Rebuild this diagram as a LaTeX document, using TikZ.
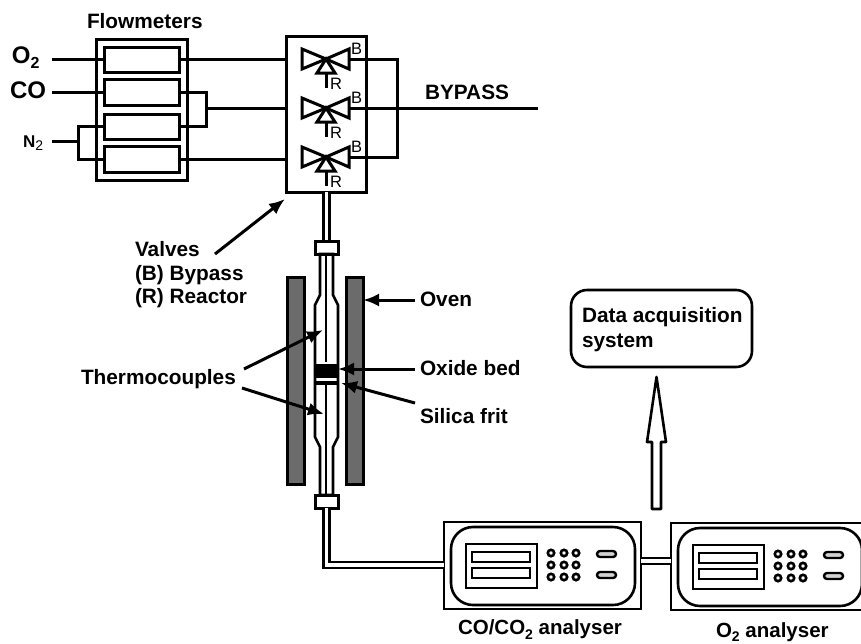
\documentclass[tikz,border=0pt]{standalone}
\usepackage{fontspec}
\setmainfont{Liberation Sans}
\usetikzlibrary{arrows.meta,calc}
\newcommand{\sizedfont}[1]{\fontsize{#1}{#1}\selectfont}
\newcommand{\subtwo}[1]{\raisebox{-.22em}{\sizedfont{#1}2}}
\newcommand{\bx}[6][box]{%
  \pgfmathsetmacro\bxw{#5-#3}\pgfmathsetmacro\bxh{#6-#4}%
  \node[#1,minimum width=\bxw pt,minimum height=\bxh pt] (#2) at ({(#3+#5)/2},{(#4+#6)/2}) {};}
\tikzset{
  box/.style={draw=black,line width=3pt,inner sep=0pt,outer sep=0pt,rectangle},
  thinbox/.style={box,line width=2.6pt},
  wire/.style={draw=black,line width=3pt},
  tube/.style={draw=black,line width=2.6pt,double=white,double distance=3.4pt},
  lab/.style={inner sep=0pt,outer sep=0pt,anchor=base west,font=\bfseries\sizedfont{20.8}},
  small/.style={inner sep=0pt,outer sep=0pt,anchor=base west,font=\sizedfont{16.5}},
  pointer/.style={draw=black,line width=3pt,-{Latex[length=16pt,width=13pt]}},
  oven/.style={box,fill=black!58},
  valvepart/.style={draw=black,line width=3pt,miter limit=10,line join=miter},
}
\begin{document}
\begin{tikzpicture}[x=1pt,y=-1pt]
\useasboundingbox (0,0) rectangle (861,643);
\clip (0,0) rectangle (861,643);
% flowmeters
\bx{fmouter}{96}{39}{187}{180}
\bx{fm1}{104}{47}{179}{72}
\bx{fm2}{104}{79}{179}{105}
\bx{fm3}{104}{114}{179}{139}
\bx{fm4}{104}{146}{179}{172}
\node[lab] (flowlab) at (87,28) {Flowmeters};
\node[lab,font=\bfseries\sizedfont{24}] (o2lab) at (12,63) {O\subtwo{16}};
\node[lab,font=\bfseries\sizedfont{24}] (colab) at (10,98) {CO};
\node[lab,font=\bfseries\sizedfont{17}] (n2lab) at (23,147) {N{\mdseries\subtwo{14}}};
\coordinate (o2in) at (52,59.5);
\coordinate (coin) at (52,92);
\coordinate (n2in) at (52,141);
\coordinate (n2j) at (78,141);
\coordinate (coj) at (206,108);
% valves
\bx{valves}{286}{36}{366}{192}
\draw[wire] (o2in) -- (fm1.west);
\draw[wire] (coin) -- (fm2.west);
\draw[wire] (n2in) -- (n2j);
\draw[wire] (fm3.west) -| (n2j) |- (fm4.west);
\draw[wire] (fm1.east) -- (fm1.east -| valves.west);
\draw[wire] (fm2.east) -| (coj) |- (fm3.east);
\draw[wire] (coj) -- (coj -| valves.west);
\draw[wire] (fm4.east) -- (fm4.east -| valves.west);
\foreach \yy/\nn in {59/1,108/2,157/3}{
  \coordinate (vc\nn) at (326,\yy);
  \draw[valvepart] (vc\nn) -- ++(-24,-10) -- ++(0,20) -- cycle;
  \draw[valvepart] (vc\nn) -- ++(23,-10) -- ++(0,20) -- cycle;
  \draw[valvepart] (vc\nn) -- ++(-9,14) -- ++(18,0) -- cycle;
  \draw[wire] (326,\yy+14) -- (326,\yy+29);
  \coordinate (vb\nn) at (349,\yy);
  \node[small] (rlab\nn) at (330,\yy+30) {R};
  \node[small] (blab\nn) at (351,\yy-5) {B};
}
\coordinate (byp) at (397,108);
\coordinate (bypend) at (538,108);
\draw[wire] (vb1) -| (byp) |- (vb3);
\draw[wire] (vb2) -- (bypend);
\node[lab] (bypasslab) at (425,99) {BYPASS};
% ovens
\bx[oven]{ovenL}{287}{277}{304}{484}
\bx[oven]{ovenR}{346}{277}{363}{484}
% reactor tube
\bx{conT}{315}{241}{338}{254}
\bx{conB}{315}{495}{338}{508}
\draw[tube] (valves.south -| 326.5,0) -- (conT.north);
\draw[wire,line width=2.6pt,fill=white]
  (320,254) -- (320,295) -- (315,305) -- (315,437) -- (320,447) -- (320,495)
  -- (333,495) -- (333,447) -- (338,437) -- (338,305) -- (333,295) -- (333,254) -- cycle;
\bx{conT}{315}{241}{338}{254}
\bx{conB}{315}{495}{338}{508}
\draw[wire,line width=2.8pt] (conT.south -| 326,0) -- (326,362);
\draw[wire,line width=2.8pt] (326,385) -- (conB.north -| 326,0);
\bx[box,fill=black,line width=0pt]{bed}{315}{364}{338}{377}
\bx[box,fill=black,line width=0pt]{frit}{315}{381}{338}{384}
% analysers
\foreach \dx/\dy/\nm in {0/0/an1,227/1/an2}{
  \begin{scope}[shift={(\dx,\dy)}]
    \bx[thinbox]{\nm}{444}{522}{641}{609}
    \bx[thinbox,rounded corners=22pt]{\nm i}{451}{527}{635}{605}
    \bx[thinbox]{\nm d}{466}{544}{537}{588}
    \bx[thinbox]{\nm b}{472}{552}{530}{562}
    \bx[thinbox]{\nm c}{472}{568}{530}{578}
    \foreach \px in {551,564,576}\foreach \py in {553,565,577}
      \draw[line width=2.6pt] (\px,\py) circle (3.2pt);
    \bx[thinbox,rounded corners=3pt,line width=2.4pt,fill=black!18]{\nm p}{597}{551}{616}{557}
    \bx[thinbox,rounded corners=3pt,line width=2.4pt,fill=black!18]{\nm q}{597}{572}{616}{578}
  \end{scope}
}
\draw[tube] (conB.south -| 326.5,0) |- (an1.west |- 0,565);
\draw[tube] (an1.east |- 0,561) -- (an2.west |- 0,561);
\node[lab,font=\bfseries\sizedfont{20.5}] (an1lab) at (458,634.5) {CO/CO\subtwo{14} analyser};
\node[lab,font=\bfseries\sizedfont{20.5}] (an2lab) at (716,637) {O\subtwo{14} analyser};
% data acquisition
\bx[thinbox,rounded corners=16pt]{data}{571}{290}{752}{367}
\node[lab] (d1) at (582,322) {Data acquisition};
\node[lab] (d2) at (582,347) {system};
\draw[line width=2.6pt,line join=round,fill=white]
  (652,509) -- (652,442) -- (647,442) -- (656.5,377) -- (666,442) -- (661,442) -- (661,509) -- cycle;
% labels and pointers
\node[lab] (v1) at (135,256) {Valves};
\node[lab] (v2) at (135,280) {(B) Bypass};
\node[lab] (v3) at (135,303) {(R) Reactor};
\coordinate (vs) at (215,254);
\coordinate (ve) at (285,199);
\draw[pointer] (vs) -- (ve);
\node[lab] (thlab) at (81,384) {Thermocouples};
\coordinate (t1s) at (244,369);
\coordinate (t1e) at (323,330);
\coordinate (t2s) at (242,388);
\coordinate (t2e) at (324,414);
\draw[pointer] (t1s) -- (t1e);
\draw[pointer] (t2s) -- (t2e);
\node[lab] (ovenlab) at (420,306) {Oven};
\node[lab] (bedlab) at (420,375) {Oxide bed};
\node[lab] (fritlab) at (420,423) {Silica frit};
\coordinate (os) at (415,300);
\coordinate (bs) at (415,369);
\coordinate (fs) at (415,403);
\coordinate (fe) at (341,383);
\draw[pointer] (os) -- (ovenR.east |- os);
\draw[pointer] (bs) -- (bed.east |- bs);
\draw[pointer] (fs) -- (fe);
\end{tikzpicture}
\end{document}
